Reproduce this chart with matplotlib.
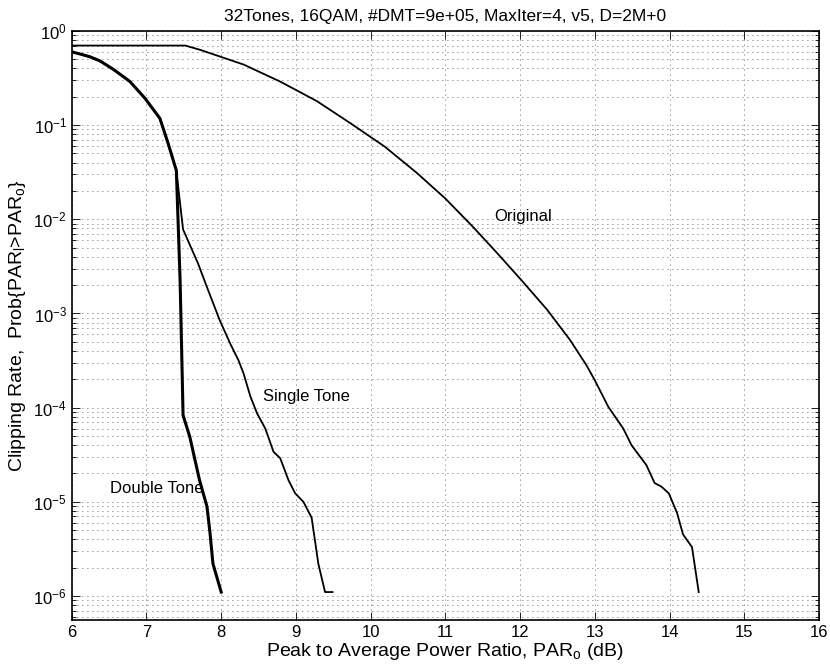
import matplotlib
matplotlib.use('Agg')
import matplotlib.pyplot as plt
from matplotlib.ticker import LogLocator, NullFormatter

plt.rcParams['font.family'] = ['Liberation Sans', 'DejaVu Sans']
plt.rcParams['mathtext.fontset'] = 'custom'
plt.rcParams['mathtext.rm'] = 'Liberation Sans'
plt.rcParams['mathtext.it'] = 'Liberation Sans'

# curve data (x in dB, y = probability)
orig_x = [6.0, 7.52, 7.72, 8.30, 8.79, 9.28, 9.72, 10.19, 10.62, 11.0, 11.37, 11.69, 12.0, 12.36,
          12.67, 12.89, 13.0, 13.18, 13.38, 13.49, 13.69, 13.80, 13.89, 13.99, 14.10, 14.18, 14.30, 14.39]
orig_y = [0.70, 0.70, 0.63, 0.44, 0.29, 0.18, 0.106, 5.9e-2, 3.1e-2, 1.66e-2, 8.3e-3, 4.4e-3, 2.34e-3, 1.1e-3,
          5.2e-4, 2.8e-4, 1.95e-4, 1.02e-4, 6.0e-5, 4.0e-5, 2.45e-5, 1.58e-5, 1.45e-5, 1.23e-5, 7.6e-6, 4.5e-6, 3.3e-6, 1.1e-6]

single_x = [6.0, 6.11, 6.25, 6.38, 6.56, 6.78, 6.98, 7.18, 7.29, 7.40, 7.49, 7.69, 7.81, 7.98, 8.12, 8.23, 8.30,
            8.39, 8.48, 8.59, 8.70, 8.79, 8.90, 8.99, 9.10, 9.21, 9.30, 9.39, 9.49]
single_y = [0.60, 0.57, 0.53, 0.48, 0.39, 0.29, 0.193, 0.118, 0.064, 0.033, 7.8e-3, 3.4e-3, 1.9e-3, 8.5e-4, 4.8e-4, 3.2e-4, 2.3e-4,
            1.32e-4, 8.7e-5, 6.0e-5, 3.4e-5, 2.9e-5, 1.7e-5, 1.23e-5, 1.0e-5, 6.8e-6, 2.2e-6, 1.1e-6, 1.1e-6]

double_x = [6.0, 6.11, 6.25, 6.38, 6.56, 6.78, 6.98, 7.18, 7.29, 7.40, 7.45, 7.48, 7.49, 7.58, 7.71, 7.81, 7.85, 7.89, 8.0]
double_y = [0.60, 0.57, 0.53, 0.48, 0.39, 0.29, 0.193, 0.118, 0.064, 0.033, 2.3e-3, 1.95e-4, 8.3e-5, 4.9e-5, 1.7e-5,
            8.9e-6, 4.7e-6, 2.2e-6, 1.1e-6]

labels = ['Original', 'Single Tone', 'Double Tone']
label_x = [11.66, 8.56, 6.51]
label_y = [1.08e-2, 1.32e-4, 1.38e-5]

fig = plt.figure(figsize=(8.3, 6.69), dpi=100)
ax = fig.add_axes([0.0864, 0.0733, 0.9004, 0.8804])

dots = dict(linestyle=(0, (1, 5)), color='#333333', linewidth=0.6)
ax.set_yscale('log')
ax.set_xlim(6, 16)
ax.set_ylim(10 ** -6.255, 1)
ax.yaxis.set_major_locator(LogLocator(base=10, numticks=20))
ax.yaxis.set_minor_locator(LogLocator(base=10, subs=range(2, 10), numticks=20))
ax.yaxis.set_minor_formatter(NullFormatter())
ax.set_xticks(range(6, 17))
ax.grid(True, which='major', **dots)
ax.yaxis.grid(True, which='minor', **dots)
ax.set_axisbelow(True)
ax.xaxis.offsetText.set_visible(False)
ax.yaxis.offsetText.set_visible(False)

ax.plot(orig_x, orig_y, color='k', linewidth=1.3)
ax.plot(single_x, single_y, color='k', linewidth=1.3)
ax.plot(double_x, double_y, color='k', linewidth=2.2)

for t, x, y in zip(labels, label_x, label_y):
    ax.text(x, y, t, fontsize=12, ha='left', va='center')

ax.tick_params(which='both', direction='in', top=True, right=True, labelsize=12)
ax.tick_params(which='major', length=6, width=0.6)
ax.tick_params(which='minor', length=3, width=0.6)
for s in ax.spines.values():
    s.set_linewidth(1.2)

ax.set_title('32Tones, 16QAM, #DMT=9e+05, MaxIter=4, v5, D=2M+0', fontsize=12.5, pad=7)
ax.set_xlabel(r'Peak to Average Power Ratio, PAR$_{\mathrm{o}}$ (dB)', fontsize=14, labelpad=1)
ax.set_ylabel(r'Clipping Rate,  Prob{PAR$_{\mathrm{l}}$>PAR$_{\mathrm{o}}$}', fontsize=14, labelpad=4)

fig.savefig('out.png', dpi=100)
